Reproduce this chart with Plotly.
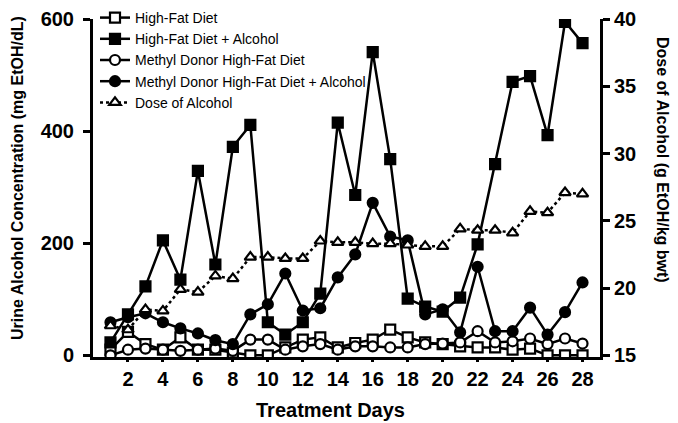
import plotly.graph_objects as go

days = list(range(1, 29))
x_ticks = list(range(2, 29, 2))

hfd = [10, 42, 20, 10, 32, 10, 10, 5, 0, 0, 14, 28, 32, 14, 22, 28, 46, 32, 23, 20, 16, 14, 14, 10, 12, 0, 0, 0]
hfd_alc = [23, 73, 123, 205, 135, 329, 162, 372, 411, 59, 37, 59, 110, 415, 286, 541, 350, 101, 87, 78, 103, 198, 341, 488, 498, 393, 595, 557]
md_hfd = [0, 10, 12, 10, 8, 10, 12, 8, 28, 28, 10, 16, 20, 10, 16, 16, 14, 14, 20, 21, 23, 43, 23, 25, 30, 20, 30, 21]
md_hfd_alc = [59, 68, 75, 59, 48, 39, 27, 20, 73, 91, 146, 80, 84, 139, 180, 272, 212, 205, 73, 82, 41, 158, 43, 43, 85, 37, 77, 130]
dose = [17.2, 16.9, 18.4, 18.3, 19.9, 19.7, 20.9, 20.7, 22.3, 22.3, 22.2, 22.2, 23.5, 23.4, 23.4, 23.3, 23.3, 23.2, 23.1, 23.1, 24.4, 24.3, 24.3, 24.1, 25.7, 25.6, 27.1, 27.0]

left_ticks = [0, 200, 400, 600]
right_ticks = [15, 20, 25, 30, 35, 40]

FONT = "Liberation Sans, Arial, sans-serif"
LW = 2.5
MS = 10
TICKFONT = dict(size=20, family=FONT, weight="bold", color="black")

# page has an 8px body margin; figure is sized so the plot area lands at
# x 93..600 and y 19..357 in the 678x423 window
OFF = 8
W, H = 678 - OFF, 423 - OFF
L, R, T, B = 93 - OFF, 678 - 600, 19 - OFF, 423 - 357
PW, PH = W - L - R, H - T - B

def px_x(px):  # page x -> paper
    return (px - OFF - L) / PW

def px_y(py):  # page y -> paper
    return (H - B - (py - OFF)) / PH

fig = go.Figure()

def add(y, name, symbol, fill, dash="solid", axis="y"):
    fig.add_trace(go.Scatter(
        x=days, y=y, name=name, mode="lines+markers", yaxis=axis,
        line=dict(color="black", width=LW, dash=dash),
        marker=dict(symbol=symbol, size=MS, color=fill,
                    line=dict(color="black", width=2.2)),
    ))

add(hfd, "High-Fat Diet", "square", "white")
add(hfd_alc, "High-Fat Diet + Alcohol", "square", "black")
add(md_hfd, "Methyl Donor High-Fat Diet", "circle", "white")
add(md_hfd_alc, "Methyl Donor High-Fat Diet + Alcohol", "circle", "black")
add(dose, "Dose of Alcohol", "triangle-up", "white", dash="dot", axis="y2")

fig.update_layout(
    width=W, height=H,
    margin=dict(l=L, r=R, t=T, b=B, autoexpand=False),
    plot_bgcolor="white", paper_bgcolor="white",
    font=dict(family=FONT, color="black"),
    showlegend=True,
    legend=dict(x=px_x(95), y=px_y(2), xanchor="left", yanchor="top",
                bgcolor="rgba(0,0,0,0)", font=dict(size=14, family=FONT),
                tracegroupgap=0, itemwidth=30),
    xaxis=dict(range=[0, 29], tickvals=x_ticks, ticktext=[str(t) for t in x_ticks],
               automargin=False,
               showgrid=False, zeroline=False, showline=True, linecolor="black", linewidth=3,
               ticks="outside", ticklen=2, tickwidth=2.5, tickcolor="black",
               tickfont=TICKFONT),
    yaxis=dict(range=[-3, 600], tickvals=left_ticks, ticktext=[str(t) for t in left_ticks],
               automargin=False, ticklabelstandoff=5,
               showgrid=False, zeroline=False, showline=True, linecolor="black", linewidth=3,
               ticks="outside", ticklen=7, tickwidth=2.5, tickcolor="black",
               tickfont=TICKFONT),
    yaxis2=dict(range=[15 - 3 * 25 / 603, 40], overlaying="y", side="right",
                automargin=False,
                tickvals=right_ticks, ticktext=[str(t) for t in right_ticks],
                showgrid=False, zeroline=False, showline=True, linecolor="black", linewidth=3,
                ticks="outside", ticklen=7, tickwidth=2.5, tickcolor="black",
                tickfont=TICKFONT),
)

fig.add_annotation(text="<b>Treatment Days</b>",
                   xref="paper", yref="paper", x=px_x(330), y=px_y(410),
                   showarrow=False, xanchor="center", yanchor="middle",
                   font=dict(size=20, family=FONT, color="black"))
fig.add_annotation(text="<b>Urine Alcohol Concentration (mg EtOH/dL)</b>", textangle=-90,
                   xref="paper", yref="paper", x=px_x(17), y=px_y(178),
                   showarrow=False, xanchor="center", yanchor="middle",
                   font=dict(size=16, family=FONT, color="black"))
fig.add_annotation(text="<b>Dose of Alcohol (g EtOH/kg bwt)</b>", textangle=90,
                   xref="paper", yref="paper", x=px_x(663), y=px_y(160), showarrow=False,
                   xanchor="center", yanchor="middle",
                   font=dict(size=16, family=FONT, color="black"))

fig.write_html("out.html")
